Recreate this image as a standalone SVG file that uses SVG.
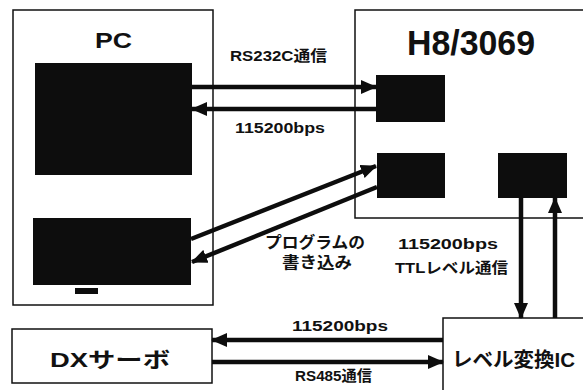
<svg xmlns="http://www.w3.org/2000/svg" width="583" height="390" viewBox="0 0 583 390">
<defs>
<style>
.box{fill:#fff;stroke:#111;stroke-width:1.5}
.blk{fill:#0d0d0d}
.ln{stroke:#0d0d0d;stroke-width:4.5;fill:none}
.t{font-family:"Liberation Sans","Noto Sans CJK JP",sans-serif;font-weight:bold;fill:#111}
</style>
<marker id="ah" markerUnits="userSpaceOnUse" markerWidth="16" markerHeight="14" refX="15" refY="7" orient="auto">
<path d="M0,0 L16,7 L0,14 Z" fill="#0d0d0d"/>
</marker>
</defs>
<rect width="583" height="390" fill="#fff"/>
<g id="pc">
<rect class="box" x="13" y="10" width="200" height="295"/>
<rect class="blk" x="35" y="63" width="157" height="112"/>
<rect class="blk" x="33" y="218" width="158" height="67"/>
<rect class="blk" x="75" y="288" width="23" height="6"/>
<text class="t" x="95" y="48" font-size="22" textLength="37" lengthAdjust="spacingAndGlyphs">PC</text>
</g>
<g id="h8">
<rect class="box" x="355" y="10" width="240" height="208"/>
<rect class="blk" x="376" y="75" width="69" height="47"/>
<rect class="blk" x="377" y="153" width="68" height="45"/>
<rect class="blk" x="498" y="153" width="69" height="45"/>
<text class="t" x="407" y="55" font-size="35" textLength="128" lengthAdjust="spacingAndGlyphs">H8/3069</text>
</g>
<g id="dx">
<rect class="box" x="12" y="329" width="200" height="54"/>
<text class="t" x="50" y="367" font-size="21" textLength="120" lengthAdjust="spacingAndGlyphs">DXサーボ</text>
</g>
<g id="ic">
<rect class="box" x="443" y="318" width="150" height="80"/>
<text class="t" x="452" y="367" font-size="20" textLength="123" lengthAdjust="spacingAndGlyphs">レベル変換IC</text>
</g>
<g id="connectors">
<line class="ln" x1="192" y1="87" x2="376" y2="87" marker-end="url(#ah)"/>
<line class="ln" x1="376" y1="109" x2="192" y2="109" marker-end="url(#ah)"/>
<line class="ln" x1="191" y1="239" x2="376" y2="166" marker-end="url(#ah)"/>
<line class="ln" x1="377" y1="187" x2="192" y2="262" marker-end="url(#ah)"/>
<line class="ln" x1="521" y1="198" x2="521" y2="318" marker-end="url(#ah)"/>
<line class="ln" x1="555" y1="318" x2="555" y2="198" marker-end="url(#ah)"/>
<line class="ln" x1="443" y1="340" x2="212" y2="340" marker-end="url(#ah)"/>
<line class="ln" x1="212" y1="362" x2="443" y2="362" marker-end="url(#ah)"/>
</g>
<g id="labels">
<text class="t" x="230" y="61" font-size="15" textLength="97" lengthAdjust="spacingAndGlyphs">RS232C通信</text>
<text class="t" x="235" y="133" font-size="15" textLength="90" lengthAdjust="spacingAndGlyphs">115200bps</text>
<text class="t" x="265" y="248" font-size="16" textLength="100" lengthAdjust="spacingAndGlyphs">プログラムの</text>
<text class="t" x="282" y="268" font-size="16" textLength="70" lengthAdjust="spacingAndGlyphs">書き込み</text>
<text class="t" x="398" y="249" font-size="15" textLength="100" lengthAdjust="spacingAndGlyphs">115200bps</text>
<text class="t" x="395" y="273" font-size="15" textLength="113" lengthAdjust="spacingAndGlyphs">TTLレベル通信</text>
<text class="t" x="292" y="331" font-size="15" textLength="96" lengthAdjust="spacingAndGlyphs">115200bps</text>
<text class="t" x="295" y="381" font-size="15" textLength="77" lengthAdjust="spacingAndGlyphs">RS485通信</text>
</g>
</svg>
